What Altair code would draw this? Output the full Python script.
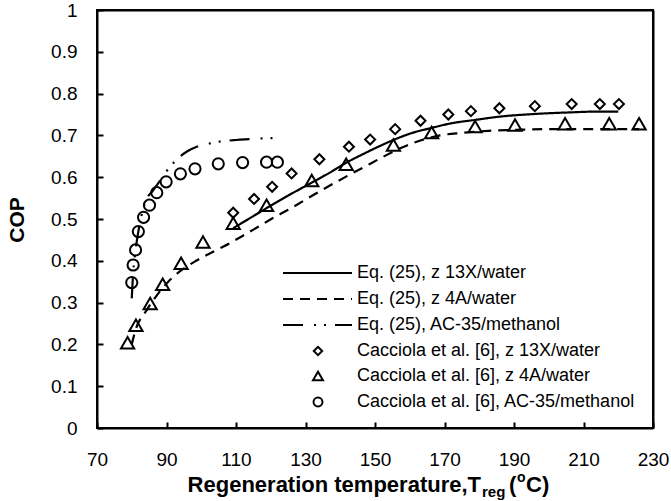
import altair as alt
import pandas as pd

# ---- Experimental points (Cacciola et al. [6]) ----
t_13x = [109.2, 115.2, 120.4, 126.0, 134.0, 142.5, 148.6, 155.8, 163.1, 171.1,
         177.6, 185.8, 196.0, 206.6, 214.7, 220.2]
cop_13x = [0.515, 0.548, 0.577, 0.609, 0.643, 0.673, 0.690, 0.715, 0.735, 0.750,
           0.758, 0.765, 0.770, 0.775, 0.775, 0.775]

t_4a = [78.8, 81.2, 85.3, 88.9, 94.2, 100.5, 109.2, 118.8, 131.8, 141.7, 155.3,
        166.3, 178.8, 190.3, 204.7, 217.4, 226.0]
cop_4a = [0.204, 0.246, 0.298, 0.344, 0.394, 0.445, 0.490, 0.533, 0.592, 0.631,
          0.677, 0.707, 0.721, 0.725, 0.728, 0.728, 0.728]

t_ac = [80.0, 80.4, 81.1, 81.9, 83.4, 85.1, 87.2, 89.9, 94.0, 98.2, 104.9, 111.9,
        118.8, 121.9]
cop_ac = [0.348, 0.390, 0.426, 0.470, 0.504, 0.533, 0.563, 0.589, 0.608, 0.620,
          0.632, 0.635, 0.636, 0.636]

# ---- Model curves, Eq. (25) ----
t_13x_eq = [109.2, 115, 120, 125, 131.8, 137, 141.8, 147, 152, 155.3, 160, 166.3,
            172, 178.8, 186, 195.5, 206, 214, 220]
cop_13x_eq = [0.478, 0.507, 0.532, 0.556, 0.587, 0.611, 0.635, 0.657, 0.677, 0.689,
              0.704, 0.718, 0.729, 0.737, 0.745, 0.751, 0.755, 0.757, 0.757]

t_4a_eq = [80, 81, 84.3, 87, 90.5, 94.4, 98.5, 103, 106.4, 112, 116.5, 121, 125,
           133, 141.8, 147, 152.4, 157.2, 162, 168.7, 175, 182.6, 190, 200, 210, 226]
cop_4a_eq = [0.200, 0.232, 0.282, 0.315, 0.350, 0.378, 0.400, 0.420, 0.434, 0.460,
             0.482, 0.504, 0.522, 0.561, 0.602, 0.625, 0.649, 0.669, 0.685, 0.700,
             0.706, 0.711, 0.713, 0.715, 0.715, 0.715]

t_ac_eq = [80, 80.4, 81.1, 81.9, 83, 84.3, 86, 88, 90, 92, 94, 96, 98.7, 102, 106,
           110, 114, 118, 122.2]
cop_ac_eq = [0.31, 0.37, 0.426, 0.47, 0.515, 0.548, 0.567, 0.59, 0.614, 0.634, 0.65,
             0.662, 0.673, 0.680, 0.686, 0.689, 0.691, 0.693, 0.694]

x_ticks = [70, 90, 110, 130, 150, 170, 190, 210, 230]
y_ticks = [0, 0.1, 0.2, 0.3, 0.4, 0.5, 0.6, 0.7, 0.8, 0.9, 1]

legend_labels = [
    "Eq. (25), z 13X/water",
    "Eq. (25), z 4A/water",
    "Eq. (25), AC-35/methanol",
    "Cacciola et al. [6], z 13X/water",
    "Cacciola et al. [6], z 4A/water",
    "Cacciola et al. [6], AC-35/methanol",
]

FONT = "Liberation Sans"
W, H = 556, 418
TICK_LEN = 6

DASH_SOLID = [1, 0]
DASH_4A = [10, 7]
DASH_AC = [20, 11, 2, 8, 2, 9]


def frame(x, y):
    df = pd.DataFrame({"T": x, "COP": y})
    df["i"] = range(len(df))
    return df


xs = alt.Scale(domain=[70, 230], nice=False, zero=False)
ys = alt.Scale(domain=[0, 1], nice=False, zero=False)

# shared look of every axis piece
AX = dict(title=None, grid=False, domainColor="black", domainWidth=2, domainOpacity=1,
          tickColor="black", tickWidth=2, tickOpacity=1)

# bottom / left: labels and the axis lines
x_main = alt.Axis(values=x_ticks, ticks=False, domain=True, labelFontSize=19,
                  labelFont=FONT, labelColor="black", labelPadding=22,
                  labelFlush=False, labelOverlap=False, **AX)
y_main = alt.Axis(values=y_ticks, format=".1~f", ticks=False, domain=True,
                  labelFontSize=19, labelFont=FONT, labelColor="black",
                  labelPadding=20, labelFlush=False, labelOverlap=False, **AX)

# tick marks pointing into the plot: a top axis moved down to the bottom edge,
# a right axis moved over to the left edge
x_ticks_in = alt.Axis(orient="top", offset=-H, values=x_ticks, labels=False,
                      domain=False, ticks=True, tickSize=TICK_LEN, **AX)
y_ticks_in = alt.Axis(orient="right", offset=-W, values=y_ticks, labels=False,
                      domain=False, ticks=True, tickSize=TICK_LEN, **AX)

# top / right edges of the box
x_top = alt.Axis(orient="top", values=x_ticks, labels=False, domain=True,
                 ticks=False, **AX)
y_right = alt.Axis(orient="right", values=y_ticks, labels=False, domain=True,
                   ticks=False, **AX)


def enc_x(axis=None):
    return alt.X("T:Q", scale=xs, axis=axis)


def enc_y(axis=None):
    return alt.Y("COP:Q", scale=ys, axis=axis)


def eq_curve(x, y, dash):
    return alt.Chart(frame(x, y)).mark_line(
        color="black", strokeWidth=2.2, interpolate="monotone", strokeDash=dash
    ).encode(x=enc_x(), y=enc_y(), order=alt.Order("i:Q"))


def points(x, y, shape, size, xa=None, ya=None):
    return alt.Chart(frame(x, y)).mark_point(
        shape=shape, size=size, filled=False, color="black", strokeWidth=2, opacity=1
    ).encode(x=enc_x(xa), y=enc_y(ya))


one = pd.DataFrame({"k": [0]})

layers = [
    eq_curve(t_13x_eq, cop_13x_eq, DASH_SOLID),
    eq_curve(t_4a_eq, cop_4a_eq, DASH_4A),
    eq_curve(t_ac_eq, cop_ac_eq, DASH_AC),
    points(t_13x, cop_13x, "diamond", 100, x_main, y_main),
    points(t_4a, cop_4a, "triangle-up", 175, x_ticks_in, y_ticks_in),
    points(t_ac, cop_ac, "circle", 125, x_top, y_right),
]

# legend (inside, lower right)
row_y = [263, 289, 315, 341, 366, 392]
line_styles = [DASH_SOLID, DASH_4A, DASH_AC]
shapes = [("diamond", 70), ("triangle-up", 100), ("circle", 80)]
for i, label in enumerate(legend_labels):
    if i < 3:
        layers.append(
            alt.Chart(one).mark_rule(color="black", strokeWidth=2.2,
                                     strokeDash=line_styles[i])
            .encode(x=alt.value(186), x2=alt.value(255), y=alt.value(row_y[i]))
        )
    else:
        shp, sz = shapes[i - 3]
        layers.append(
            alt.Chart(one).mark_point(shape=shp, size=sz, filled=False, color="black",
                                      strokeWidth=2, opacity=1)
            .encode(x=alt.value(221), y=alt.value(row_y[i]))
        )
    layers.append(
        alt.Chart(one).mark_text(align="left", baseline="middle", fontSize=18,
                                 font=FONT, color="black")
        .encode(x=alt.value(260), y=alt.value(row_y[i]), text=alt.value(label))
    )


# axis titles
def label_text(txt, x, y, size, angle=0, align="left", baseline="alphabetic"):
    return alt.Chart(one).mark_text(
        align=align, baseline=baseline, fontSize=size, font=FONT,
        fontWeight="bold", color="black", angle=angle
    ).encode(x=alt.value(x), y=alt.value(y), text=alt.value(txt))


T_END = 384
layers += [
    label_text("Regeneration temperature,T", T_END, 482, 22, align="right"),
    label_text("reg", T_END + 1, 487, 15),
    label_text("(", T_END + 28, 482, 22),
    label_text("o", T_END + 36, 472, 14),
    label_text("C)", T_END + 45, 482, 22),
    label_text("COP", -79, 210, 21, angle=270, align="center", baseline="middle"),
]

chart = alt.layer(*layers).resolve_axis(
    x="independent", y="independent"
).properties(
    width=W, height=H,
    autosize=alt.AutoSizeParams(type="none"),
    padding={"left": 97, "top": 10, "right": 18, "bottom": 73},
    background="white",
).configure_view(stroke="black", strokeWidth=2)

chart.save("out.html", embed_options={"renderer": "svg", "actions": False})
